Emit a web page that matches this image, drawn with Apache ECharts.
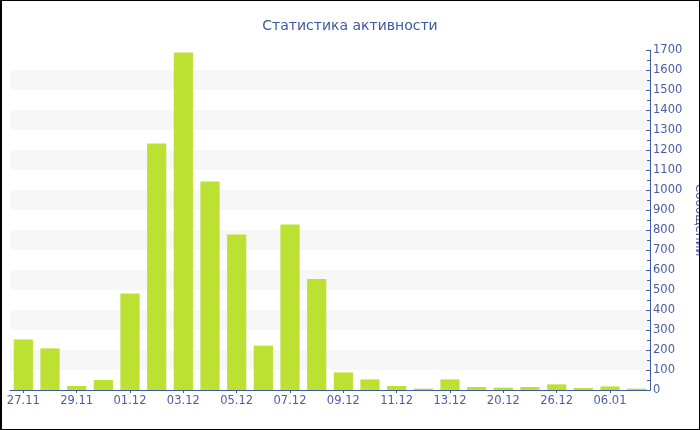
<!DOCTYPE html>
<html>
<head>
<meta charset="utf-8">
<script src="https://cdn.jsdelivr.net/npm/echarts@6/dist/echarts.min.js"></script>
<style>
html,body{margin:0;padding:0;background:#fff;}
#wrap{position:relative;width:700px;height:430px;}
#c{position:absolute;left:0;top:0;width:700px;height:430px;}
#b{position:absolute;left:0;top:0;width:700px;height:430px;box-sizing:border-box;border:1px solid #000;border-left:2px solid #000;pointer-events:none;}
</style>
</head>
<body>
<div id="wrap"><div id="c"></div><div id="b"></div></div>
<script>
const titleText = 'Статистика активности';
const axisName = 'Сообщений';
const categories = ['27.11','28.11','29.11','30.11','01.12','02.12','03.12','04.12','05.12','06.12','07.12','08.12','09.12','10.12','11.12','12.12','13.12','16.12','20.12','23.12','26.12','30.12','06.01','10.01'];
const messages = [253,208,20,50,483,1232,1688,1042,777,222,827,555,88,53,20,7,53,15,12,15,28,10,18,7];
const yMin = 0, yMax = 1700, yStep = 100;

const blue = '#4059a5';
const txt = '#4a5da3';
const chart = echarts.init(document.getElementById('c'), null, {renderer:'canvas'});
chart.setOption({
  animation:false,
  textStyle:{fontFamily:'DejaVu Sans'},
  title:{text:titleText,left:'center',top:14,textStyle:{color:'#3e58a2',fontSize:14,fontWeight:'normal',fontFamily:'DejaVu Sans'}},
  grid:{left:10,right:50,top:50,bottom:40,containLabel:false,outerBoundsMode:'none'},
  xAxis:{
    type:'category',data:categories,boundaryGap:true,
    axisLine:{lineStyle:{color:blue,width:1}},
    axisTick:{show:true,alignWithLabel:true,interval:1,length:3,lineStyle:{color:blue}},
    axisLabel:{interval:1,color:txt,fontSize:11.5,margin:5,fontFamily:'DejaVu Sans'},
    splitLine:{show:false}
  },
  yAxis:{
    type:'value',position:'right',min:yMin,max:yMax,interval:yStep,
    name:axisName,nameLocation:'middle',nameRotate:-90,nameGap:37,
    nameTextStyle:{color:txt,fontSize:12,fontFamily:'DejaVu Sans'},
    axisLine:{show:true,lineStyle:{color:blue}},
    axisTick:{show:true,inside:true,length:4,lineStyle:{color:blue}},
    minorTick:{show:true,splitNumber:2,length:3,lineStyle:{color:blue}},
    axisLabel:{color:txt,fontSize:11.5,margin:3,fontFamily:'DejaVu Sans',formatter:function(v){return String(v);}},
    splitLine:{show:false},
    splitArea:{show:true,areaStyle:{color:['#ffffff','#f7f7f7']}}
  },
  series:[{type:'bar',data:messages,barCategoryGap:'28%',itemStyle:{color:'#bde132'}}]
});
</script>
</body>
</html>
